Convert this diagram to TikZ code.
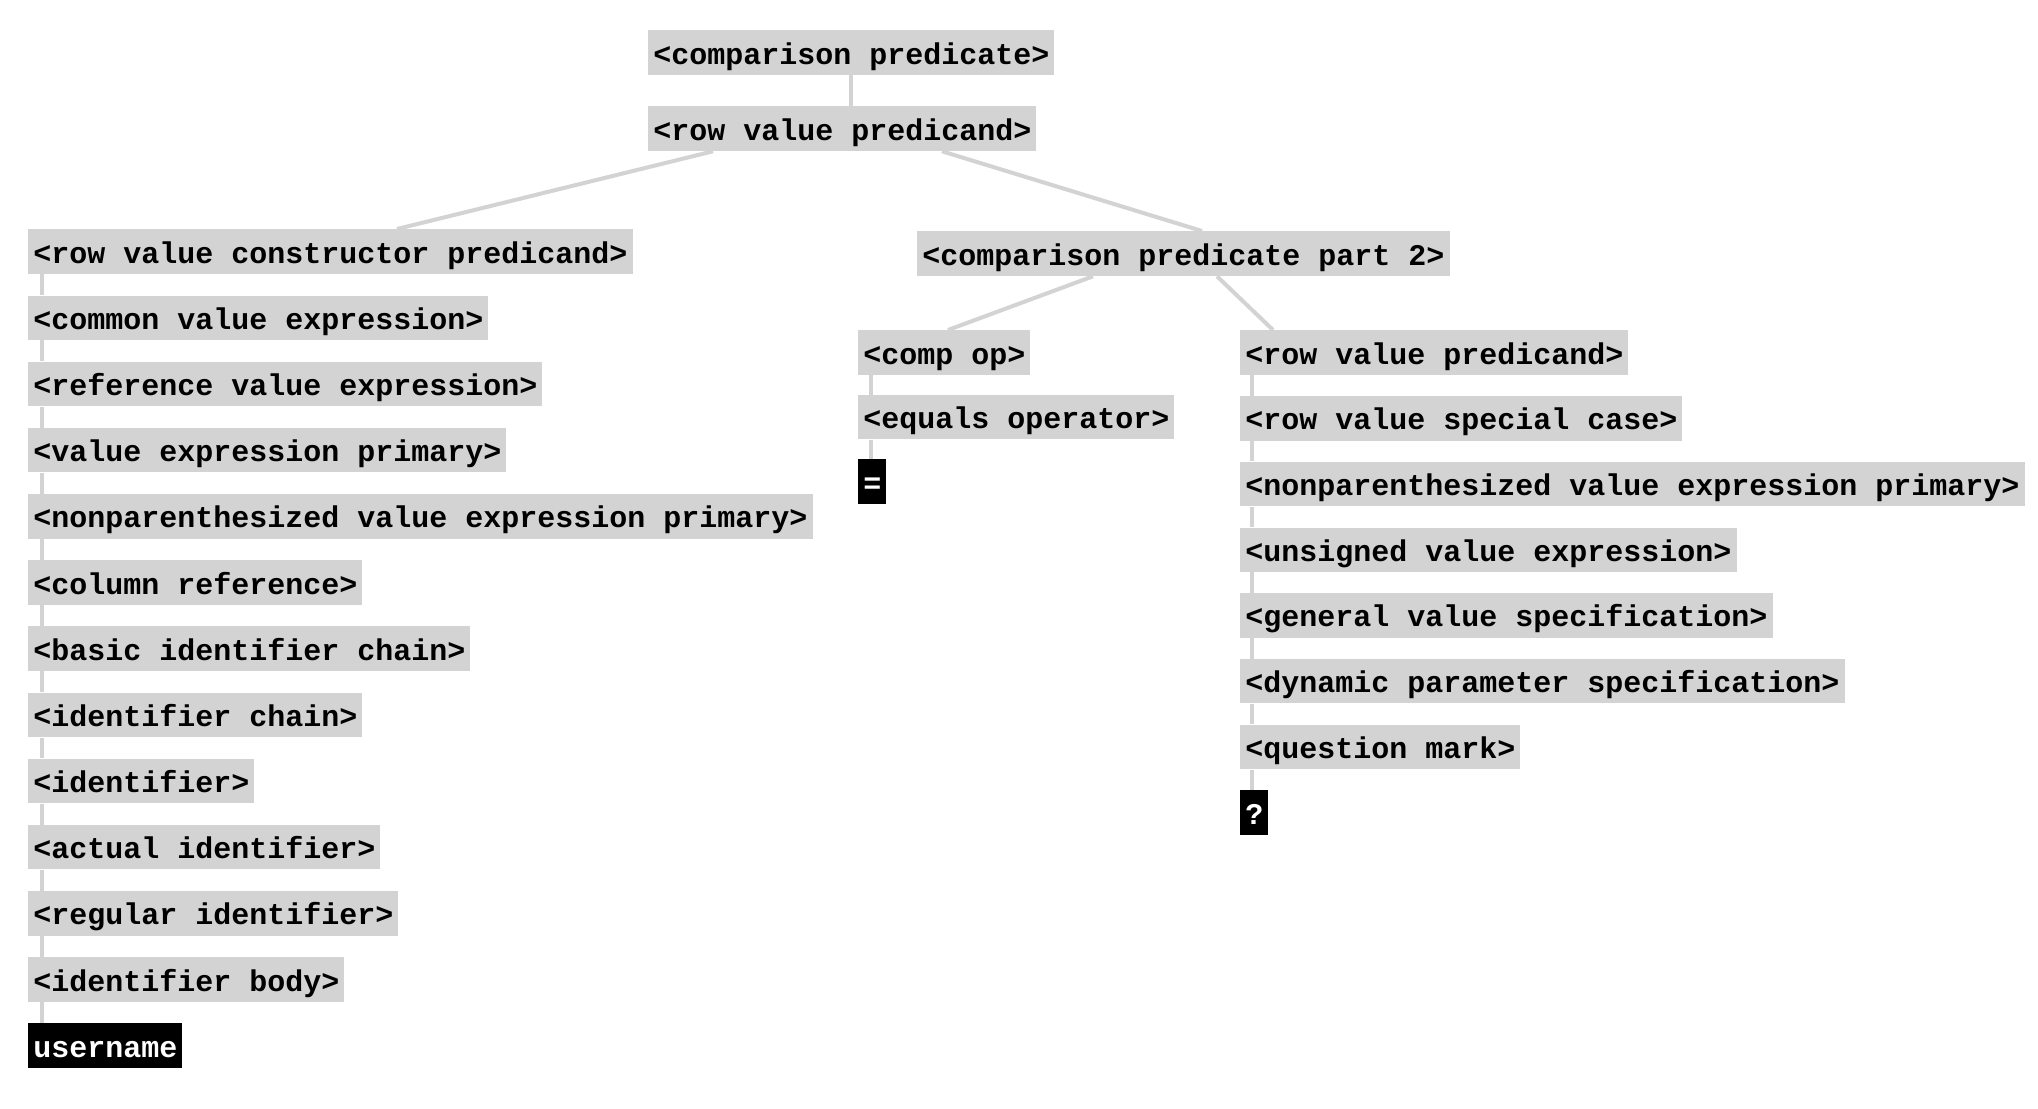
\documentclass[tikz,border=0pt]{standalone}
\usepackage{fontspec}
\setmonofont{Liberation Mono}
\usetikzlibrary{positioning}
\definecolor{boxgray}{HTML}{D3D3D3}
\tikzset{
    rule/.style={anchor=north west, fill=boxgray, text=black,
        font=\ttfamily\bfseries\fontsize{15pt}{18pt}\selectfont,
        inner xsep=2.5pt, inner ysep=0pt, minimum height=22.25pt,
        text height=12.5pt, text depth=1pt},
    token/.style={rule, fill=black, text=white},
    link/.style={draw=boxgray, line width=2pt},
}
\begin{document}
\begin{tikzpicture}[x=0.5pt, y=-0.5pt]
    \path[use as bounding box, fill=white] (0,0) rectangle (2038,1108);
    % top of the tree
    \node[rule] (cp) at (648,30) {<comparison predicate>};
    \node[rule] (rvp) at (648,106) {<row value predicand>};
    \node[rule] (part) at (917,231) {<comparison predicate part 2>};
    % left chain
    \foreach \kind/\lbl [count=\i] in {
        rule/<row value constructor predicand>,
        rule/<common value expression>,
        rule/<reference value expression>,
        rule/<value expression primary>,
        rule/<nonparenthesized value expression primary>,
        rule/<column reference>,
        rule/<basic identifier chain>,
        rule/<identifier chain>,
        rule/<identifier>,
        rule/<actual identifier>,
        rule/<regular identifier>,
        rule/<identifier body>,
        token/username
    } {\node[\kind] (l\i) at (28, {229+(\i-1)*66.17}) {\lbl};}
    % comp op chain
    \foreach \kind/\lbl [count=\i] in {
        rule/<comp op>,
        rule/<equals operator>,
        token/=
    } {\node[\kind] (c\i) at (858, {330+(\i-1)*64.5}) {\lbl};}
    % right chain
    \foreach \kind/\lbl [count=\i] in {
        rule/<row value predicand>,
        rule/<row value special case>,
        rule/<nonparenthesized value expression primary>,
        rule/<unsigned value expression>,
        rule/<general value specification>,
        rule/<dynamic parameter specification>,
        rule/<question mark>,
        token/?
    } {\node[\kind] (r\i) at (1240, {330+(\i-1)*65.7}) {\lbl};}
    % links
    \draw[link] (cp.south) -- (cp.south |- rvp.north);
    \draw[link] ([xshift=32.5pt]rvp.south west) -- ([xshift=184.5pt]l1.north west);
    \draw[link] ([xshift=147pt]rvp.south west) -- ([xshift=142.5pt]part.north west);
    \draw[link] ([xshift=88pt]part.south west) -- ([xshift=45pt]c1.north west);
    \draw[link] ([xshift=150pt]part.south west) -- ([xshift=16.5pt]r1.north west);
    \foreach \i [evaluate=\i as \j using int(\i+1)] in {1,...,12}
        {\draw[link] ([xshift=7pt]l\i.south west) -- ([xshift=7pt]l\j.north west);}
    \foreach \i [evaluate=\i as \j using int(\i+1)] in {1,2}
        {\draw[link] ([xshift=6.5pt]c\i.south west) -- ([xshift=6.5pt]c\j.north west);}
    \foreach \i [evaluate=\i as \j using int(\i+1)] in {1,...,7}
        {\draw[link] ([xshift=6pt]r\i.south west) -- ([xshift=6pt]r\j.north west);}
\end{tikzpicture}
\end{document}
